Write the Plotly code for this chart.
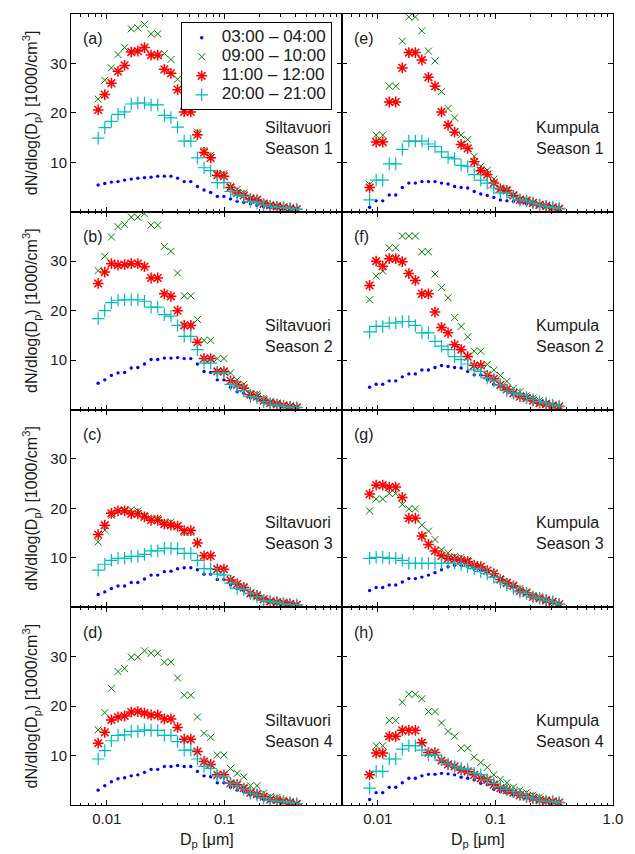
import plotly.graph_objects as go
from plotly.subplots import make_subplots

# Particle diameters [um]
dp_siltavuori = [0.00843, 0.00960, 0.01093, 0.01244, 0.01416, 0.01612, 0.01835, 0.02089, 0.02378, 0.02708,
                 0.03083, 0.03509, 0.03995, 0.04548, 0.05177, 0.05894, 0.06710, 0.07638, 0.08695, 0.09901,
                 0.1127, 0.1283, 0.1461, 0.1663, 0.1893, 0.2155, 0.2454, 0.2793, 0.3180, 0.3620, 0.4121]
dp_kumpula = [0.00851, 0.00967, 0.01100, 0.01250, 0.01420, 0.01614, 0.01834, 0.02085, 0.02369, 0.02693,
              0.03062, 0.03479, 0.03955, 0.04495, 0.05109, 0.05808, 0.06600, 0.07502, 0.08527, 0.09692,
              0.1102, 0.1252, 0.1423, 0.1617, 0.1838, 0.2089, 0.2374, 0.2698, 0.3067, 0.3486]

series_names = ["03:00 \u2013 04:00", "09:00 \u2013 10:00", "11:00 \u2013 12:00", "20:00 \u2013 21:00"]

# Siltavuori, seasons 1-4
silta_s1_0304 = [5.4,5.7,6.0,6.1,6.4,6.6,6.8,6.9,7.0,7.2,7.2,7.2,6.8,6.1,6.1,5.1,4.4,3.9,3.1,3.1,2.6,2.1,1.9,1.6,1.3,1.0,0.8,0.6,0.5,0.4,0.3]
silta_s1_0910 = [22.8,26.6,29.1,31.8,33.2,37.0,37.2,37.9,36.0,36.0,32.0,30.8,26.8,21.4,21.4,16.1,12.4,11.4,7.8,7.7,5.1,4.5,3.8,2.8,2.4,1.8,1.4,1.2,0.9,0.7,0.5]
silta_s1_1112 = [20.6,23.7,26.0,28.4,29.6,32.3,32.5,33.2,31.7,31.7,28.8,28.0,24.7,20.2,20.2,15.6,12.0,10.9,7.4,7.2,4.9,3.8,3.3,2.6,2.4,1.6,1.3,1.1,0.9,0.7,0.5]
silta_s1_2021 = [14.9,17.0,18.3,19.7,20.2,21.8,22.0,22.0,21.6,21.6,19.5,19.0,17.1,14.3,14.3,10.9,8.9,8.3,5.9,5.9,4.1,3.4,3.1,2.1,1.8,1.4,1.1,0.9,0.9,0.7,0.5]

silta_s2_0304 = [5.3,6.0,6.9,7.4,7.5,8.4,8.5,9.2,10.1,10.1,10.4,10.4,10.5,10.3,10.3,9.2,7.7,7.5,6.0,6.0,4.5,3.6,3.3,2.4,2.2,1.5,1.1,0.9,0.6,0.4,0.3]
silta_s2_0910 = [28.1,31.0,34.9,37.0,37.4,38.9,38.9,39.6,37.3,37.3,33.0,32.0,27.6,23.0,23.0,18.2,14.0,14.0,10.3,10.3,7.4,6.0,5.1,3.3,3.1,2.2,1.6,1.3,0.9,0.7,0.5]
silta_s2_1112 = [25.5,27.8,29.5,29.2,29.3,29.5,29.5,28.9,26.6,26.6,23.4,22.9,20.0,17.0,17.0,13.6,10.3,10.3,7.7,7.7,5.8,5.0,4.3,3.0,2.6,1.8,1.3,1.1,0.8,0.6,0.4]
silta_s2_2021 = [18.4,20.0,21.6,22.1,22.2,22.2,22.2,21.9,20.7,20.7,19.2,18.9,17.0,14.8,14.8,12.1,9.4,9.4,7.4,7.4,5.1,4.7,3.8,2.6,2.4,1.6,1.1,0.9,0.7,0.5,0.4]

silta_s3_0304 = [2.6,3.1,3.8,4.3,4.3,5.0,5.0,5.7,6.5,6.5,7.2,7.3,7.8,8.0,8.0,7.6,6.7,6.7,5.6,5.6,4.5,3.8,3.4,2.4,2.1,1.6,1.2,1.1,0.7,0.6,0.4]
silta_s3_0910 = [13.2,15.6,18.6,19.5,19.7,19.7,19.5,18.6,18.0,18.0,17.2,17.2,16.5,15.1,15.1,13.0,10.4,10.4,7.7,7.7,5.6,4.7,4.1,2.8,2.1,1.6,1.2,1.1,0.7,0.6,0.5]
silta_s3_1112 = [14.7,16.6,19.0,19.5,19.5,18.9,18.9,18.3,17.6,17.6,16.8,16.6,16.4,15.5,15.5,13.0,10.4,10.4,7.7,7.7,5.5,4.7,4.0,2.8,2.4,1.6,1.2,1.0,0.9,0.7,0.5]
silta_s3_2021 = [7.5,8.7,9.5,9.9,9.9,10.3,10.3,10.7,11.4,11.4,11.9,11.9,11.8,10.9,10.9,9.5,7.8,7.8,6.7,6.5,4.9,3.8,3.6,2.8,2.1,1.4,1.2,1.0,0.7,0.6,0.5]

silta_s4_0304 = [3.0,3.9,4.7,5.3,5.5,5.9,6.1,6.6,7.2,7.2,7.8,7.8,8.0,7.8,7.8,6.8,5.9,5.7,4.5,4.5,3.6,3.0,2.7,2.0,1.7,1.1,0.9,0.7,0.5,0.3,0.2]
silta_s4_0910 = [15.2,18.7,23.6,27.0,27.6,29.9,29.9,31.2,30.7,30.7,28.9,28.9,25.7,22.2,22.2,17.8,14.5,13.7,10.1,10.1,7.4,6.4,5.7,3.9,3.9,2.4,1.7,1.5,1.0,0.7,0.3]
silta_s4_1112 = [12.5,14.7,17.2,17.8,18.0,18.8,18.9,18.6,18.2,18.2,17.4,17.4,15.7,13.3,13.3,10.8,8.8,8.2,6.1,6.1,4.4,4.1,3.4,2.5,2.2,1.7,1.1,1.0,0.7,0.5,0.2]
silta_s4_2021 = [9.3,11.0,13.0,14.1,14.2,14.9,14.9,15.2,15.1,15.1,14.1,14.1,12.8,11.1,11.1,9.3,7.8,7.4,5.9,5.7,4.4,3.9,3.2,2.4,2.0,1.4,1.0,0.8,0.7,0.5,0.3]

# Kumpula, seasons 1-4
kump_s1_0304 = [0.9,2.2,2.2,3.4,3.4,4.9,5.8,5.8,6.1,6.1,6.1,5.8,5.6,5.1,4.9,4.8,4.1,3.6,3.3,2.9,2.4,2.2,2.1,1.8,1.6,1.4,1.2,1.1,0.9,0.7]
kump_s1_0910 = [5.5,15.5,15.5,25.4,25.4,34.5,39.4,39.4,36.6,32.5,30.5,24.3,20.9,19.0,15.5,14.6,11.2,9.2,8.4,6.6,4.8,4.5,3.4,2.6,2.4,1.8,1.4,1.1,0.9,0.7]
kump_s1_1112 = [4.9,14.1,14.1,22.2,22.2,29.1,32.2,32.2,30.7,27.2,25.4,20.2,17.5,16.1,13.6,12.8,10.1,8.3,7.5,5.8,4.6,4.3,3.3,2.4,2.2,1.8,1.4,1.2,0.9,0.6]
kump_s1_2021 = [2.4,6.4,6.4,9.7,9.7,12.6,14.3,14.3,14.3,13.7,13.2,12.1,11.0,10.7,9.4,9.1,7.5,6.4,5.8,4.8,3.8,3.8,2.9,2.4,2.2,1.8,1.4,1.1,0.9,0.7]

kump_s2_0304 = [4.5,5.1,5.1,5.8,5.8,6.6,7.2,7.2,8.0,8.0,8.5,8.9,8.7,8.5,8.4,7.7,7.0,7.0,6.0,5.1,4.7,3.8,3.1,2.6,2.2,1.8,1.3,1.1,0.8,0.6]
kump_s2_0910 = [22.2,27.0,28.0,32.7,32.7,35.1,35.1,35.1,31.9,31.9,27.4,24.7,22.6,18.6,16.8,14.7,11.8,11.8,9.1,8.0,6.9,5.7,4.3,3.6,2.8,2.3,1.8,1.3,0.9,0.7]
kump_s2_1112 = [25.1,30.0,29.0,30.5,30.5,29.9,27.5,26.1,23.4,23.4,19.7,16.6,15.5,13.1,12.1,10.7,8.9,8.9,6.9,6.2,5.0,4.1,3.3,2.6,2.3,1.8,1.3,1.1,0.8,0.6]
kump_s2_2021 = [15.7,16.8,16.8,17.5,17.5,17.8,17.8,17.0,15.5,15.5,13.8,12.8,12.1,10.7,10.1,9.2,8.0,7.7,6.4,5.8,5.0,3.8,3.3,3.0,2.4,2.0,1.6,1.3,0.9,0.7]

kump_s3_0304 = [3.4,4.0,4.0,4.5,4.5,5.1,5.8,5.8,6.1,6.5,7.0,7.6,8.2,8.5,8.5,8.3,7.8,7.5,7.0,6.3,5.5,4.8,4.1,3.3,2.9,2.1,1.8,1.4,1.1,0.6]
kump_s3_0910 = [19.5,21.9,21.9,23.0,23.0,20.8,19.9,19.9,16.6,15.4,13.7,11.6,11.0,10.3,10.1,9.5,8.5,8.2,7.4,6.8,5.8,5.1,4.5,3.8,3.1,2.4,2.1,1.6,1.1,0.7]
kump_s3_1112 = [22.9,24.7,24.7,24.3,24.3,22.2,18.0,18.0,14.4,12.7,11.4,10.4,9.9,9.7,9.5,9.2,8.5,8.2,7.4,6.8,5.6,4.9,4.3,3.3,2.9,2.1,1.8,1.4,1.1,0.6]
kump_s3_2021 = [9.9,10.1,10.1,9.9,9.9,9.5,8.9,8.9,8.9,8.9,8.9,8.9,9.0,8.9,8.7,8.2,7.8,7.2,6.8,6.1,5.1,4.5,3.8,3.1,2.8,2.1,1.8,1.4,1.1,0.6]

kump_s4_0304 = [1.1,2.5,2.5,3.6,3.6,4.5,5.4,5.4,5.9,6.2,6.2,6.4,6.3,6.1,5.6,5.4,5.1,4.4,4.1,3.2,2.7,2.4,2.0,1.7,1.4,1.1,1.0,0.8,0.7,0.5]
kump_s4_0910 = [6.0,12.0,12.0,17.1,17.1,20.8,22.4,22.4,21.5,18.9,18.9,16.6,14.9,13.9,11.5,11.5,9.7,8.6,7.6,6.1,5.2,4.5,3.6,3.0,2.5,2.0,1.6,1.1,0.8,0.5]
kump_s4_1112 = [6.1,10.5,10.5,13.9,13.9,15.1,15.1,15.1,12.6,10.6,10.6,9.0,8.2,7.8,7.1,6.8,6.1,5.4,5.1,4.1,3.4,3.0,2.5,2.0,1.7,1.4,1.0,0.8,0.7,0.5]
kump_s4_2021 = [3.4,6.8,6.8,9.3,9.3,11.3,12.0,12.0,11.1,10.1,10.1,9.1,8.3,7.8,7.4,7.2,6.4,6.1,5.1,4.4,3.7,3.2,2.7,2.2,1.7,1.4,1.0,0.8,0.7,0.5]

panel_letters = ["(a)", "(b)", "(c)", "(d)", "(e)", "(f)", "(g)", "(h)"]
site_names = ["Siltavuori", "Kumpula"]
season_labels = ["Season 1", "Season 2", "Season 3", "Season 4"]
x_title = "D<sub>p</sub> [\u03bcm]"
y_title = "dN/dlog(D<sub>p</sub>) [1000/cm<sup>3</sup>]"

x_tick_vals = [0.01, 0.1, 1.0]
x_tick_text_left = ["0.01", "0.1", ""]
x_tick_text_right = ["0.01", "0.1", "1.0"]
y_tick_vals = [10, 20, 30]

silta = [[silta_s1_0304, silta_s1_0910, silta_s1_1112, silta_s1_2021],
         [silta_s2_0304, silta_s2_0910, silta_s2_1112, silta_s2_2021],
         [silta_s3_0304, silta_s3_0910, silta_s3_1112, silta_s3_2021],
         [silta_s4_0304, silta_s4_0910, silta_s4_1112, silta_s4_2021]]
kump = [[kump_s1_0304, kump_s1_0910, kump_s1_1112, kump_s1_2021],
        [kump_s2_0304, kump_s2_0910, kump_s2_1112, kump_s2_2021],
        [kump_s3_0304, kump_s3_0910, kump_s3_1112, kump_s3_2021],
        [kump_s4_0304, kump_s4_0910, kump_s4_1112, kump_s4_2021]]

FONT = "Liberation Sans, Arial, Helvetica, sans-serif"
TXT = "#1a1a1a"
styles = [
    dict(symbol="circle", size=3.4, color="#0000ff", line=dict(width=0)),
    dict(symbol="x-thin-open", size=7, color="#008000", line=dict(width=1, color="#008000")),
    dict(symbol="asterisk-open", size=9, color="#ff0000", line=dict(width=1.5, color="#ff0000")),
    dict(symbol="cross-thin-open", size=9, color="#00bdbd", line=dict(width=1.2, color="#00bdbd")),
]

fig = make_subplots(rows=4, cols=2, horizontal_spacing=0, vertical_spacing=0)

minor_vals = [m * 10.0 ** e for e in (-3, -2, -1) for m in range(2, 10) if m * 10.0 ** e >= 0.005]

for r in range(4):
    for c in range(2):
        data = silta[r] if c == 0 else kump[r]
        xs = dp_siltavuori if c == 0 else dp_kumpula
        for k in range(4):
            fig.add_trace(go.Scatter(
                x=xs, y=data[k], mode="markers",
                name='<span style="font-size:17px">' + series_names[k] + '</span>',
                marker=styles[k], showlegend=(r == 0 and c == 0),
            ), row=r + 1, col=c + 1)

        idx = r * 2 + c + 1
        xa = "xaxis" if idx == 1 else f"xaxis{idx}"
        ya = "yaxis" if idx == 1 else f"yaxis{idx}"
        bottom = (r == 3)
        fig.layout[xa].update(
            type="log", range=[-2.305, 0.0],
            tickvals=x_tick_vals,
            ticktext=(x_tick_text_left if c == 0 else x_tick_text_right),
            showticklabels=bottom,
            ticks="inside", ticklen=5, tickwidth=1, tickcolor="black",
            minor=dict(ticks="inside", ticklen=2.5, tickwidth=1, tickcolor="black",
                       tickvals=minor_vals, showgrid=False),
            showline=True, linecolor="black", linewidth=1, mirror="allticks",
            showgrid=False, zeroline=False,
            tickfont=dict(family=FONT, size=15, color=TXT),
            domain=[0.0, 0.5] if c == 0 else [0.5, 1.0],
        )
        fig.layout[ya].update(
            range=[0, 40], tickvals=y_tick_vals, showticklabels=(c == 0),
            ticks="inside", ticklen=5, tickwidth=1, tickcolor="black",
            showline=True, linecolor="black", linewidth=1, mirror="allticks",
            showgrid=False, zeroline=False,
            tickfont=dict(family=FONT, size=15, color=TXT),
            domain=[0.75 - 0.25 * r, 1.0 - 0.25 * r],
        )
        if c == 0:
            fig.layout[ya].update(
                title=dict(text=y_title, font=dict(family=FONT, size=16, color=TXT), standoff=8),
            )
        xd = ("x" if idx == 1 else f"x{idx}") + " domain"
        yd = ("y" if idx == 1 else f"y{idx}") + " domain"
        fig.add_annotation(xref=xd, yref=yd, x=0.038, y=0.874, xanchor="left", yanchor="middle",
                           text=panel_letters[c * 4 + r], showarrow=False,
                           font=dict(family=FONT, size=16, color=TXT))
        fig.add_annotation(xref=xd, yref=yd, x=0.71, y=0.373, xanchor="left", yanchor="middle",
                           align="left", text=site_names[c] + "<br>" + season_labels[r], showarrow=False,
                           font=dict(family=FONT, size=16, color=TXT))
        if bottom:
            fig.add_annotation(xref=xd, yref=yd, x=0.5, y=-0.178, xanchor="center", yanchor="middle",
                               text=x_title, showarrow=False,
                               font=dict(family=FONT, size=16, color=TXT))

fig.update_layout(
    width=635, height=854,
    margin=dict(l=71, r=14, t=14, b=49),
    paper_bgcolor="white", plot_bgcolor="white",
    font=dict(family=FONT, size=15, color=TXT),
    legend=dict(x=0.2024, y=0.9895, xanchor="left", yanchor="top",
                bgcolor="white", bordercolor="black", borderwidth=1,
                font=dict(family=FONT, size=12, color=TXT),
                tracegroupgap=0, itemwidth=30),
)

fig.write_html("out.html")
